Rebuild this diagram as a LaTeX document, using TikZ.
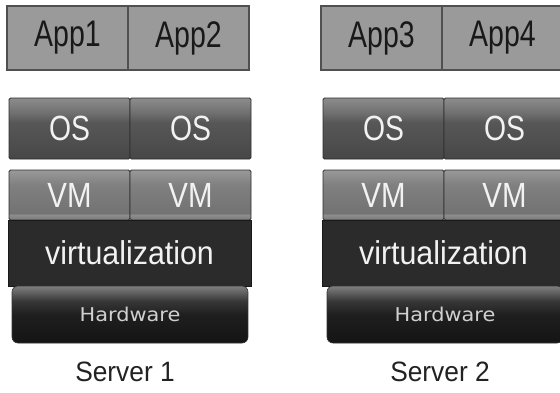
\documentclass[tikz,border=0pt]{standalone}
\usepackage{graphicx}
\usepackage{fontspec}
\setmainfont{Liberation Sans}
\newfontfamily\hwfont{DejaVu Sans}
\definecolor{appfill}{HTML}{9A9A9A}
\definecolor{appline}{HTML}{505050}
\definecolor{osline}{HTML}{2E2E2E}
\definecolor{virtfill}{HTML}{2B2B2B}
\definecolor{txtlight}{HTML}{F2F2F2}
\definecolor{hwtxt}{HTML}{D0D0D0}
\definecolor{labtxt}{HTML}{222222}
\pgfdeclareverticalshading{osshade}{100bp}{%
  color(0bp)=(black!72); color(25bp)=(black!72); color(55bp)=(black!66);
  color(63bp)=(black!56); color(75bp)=(black!45); color(100bp)=(black!45)}
\pgfdeclareverticalshading{vmshade}{100bp}{%
  color(0bp)=(black!52); color(25bp)=(black!52); color(30bp)=(black!45);
  color(32bp)=(black!55); color(60bp)=(black!50); color(75bp)=(black!40); color(100bp)=(black!40)}
\pgfdeclareverticalshading{hwshade}{100bp}{%
  color(0bp)=(black!92); color(25bp)=(black!92); color(50bp)=(black!88);
  color(62bp)=(black!78); color(75bp)=(black!50); color(100bp)=(black!50)}
\newcommand{\sqz}[2]{\scalebox{#1}[1]{#2}}
\tikzset{
  appbox/.style={draw=appline, line width=1.1pt, fill=appfill, inner sep=0pt, outer sep=0pt,
    minimum width=121pt, minimum height=64pt, text=black!90,
    font=\fontsize{37}{37}\selectfont},
  osbox/.style={draw=osline, line width=0.9pt, shading=osshade, inner sep=0pt, outer sep=0pt,
    rounded corners=1.5pt, minimum width=121pt, minimum height=61pt, text=txtlight,
    font=\fontsize{35}{35}\selectfont},
  vmbox/.style={draw=osline, line width=0.9pt, shading=vmshade, inner sep=0pt, outer sep=0pt,
    rounded corners=1.5pt, minimum width=121pt, minimum height=50pt, text=txtlight,
    font=\fontsize{35}{35}\selectfont},
  virtbox/.style={draw=black!90, line width=0.9pt, fill=virtfill, inner sep=0pt, outer sep=0pt,
    minimum width=243pt, minimum height=66pt, text=txtlight,
    font=\fontsize{33}{33}\selectfont},
  hwbox/.style={draw=black!80, line width=0.6pt, shading=hwshade, inner sep=0pt, outer sep=0pt,
    rounded corners=6pt, minimum width=236pt, minimum height=57pt, text=hwtxt,
    font=\hwfont\fontsize{19}{19}\selectfont},
  srvlabel/.style={inner sep=0pt, text=labtxt, font=\fontsize{28}{28}\selectfont}
}
\begin{document}
\begin{tikzpicture}[x=1pt,y=-1pt]
\useasboundingbox (0,0) rectangle (560,392);
\fill[white] (0,0) rectangle (560,392);
\begin{scope}
\clip (0,0) rectangle (560,392);
% Server 1 (x0 = 7)
\node[appbox] (app1) at (67.5,38) {\sqz{0.77}{App1}};
\node[appbox] (app2) at (188.5,38) {\sqz{0.77}{App2}};
\node[osbox] (os1) at (69.5,128.5) {\sqz{0.81}{OS}};
\node[osbox] (os2) at (190.5,128.5) {\sqz{0.81}{OS}};
\node[vmbox] (vm1) at (69.5,195) {\sqz{0.84}{VM}};
\node[vmbox] (vm2) at (190.5,195) {\sqz{0.84}{VM}};
\node[virtbox] (virt1) at (129.5,253) {\sqz{0.92}{virtualization}};
\node[hwbox] (hw1) at (130,314.5) {\sqz{1.1}{Hardware}};
\node[srvlabel] (srv1) at (125,372) {\sqz{0.94}{Server 1}};
% Server 2 (x0 = 321)
\node[appbox] (app3) at (381.5,38) {\sqz{0.77}{App3}};
\node[appbox] (app4) at (502.5,38) {\sqz{0.77}{App4}};
\node[osbox] (os3) at (383.5,128.5) {\sqz{0.81}{OS}};
\node[osbox] (os4) at (504.5,128.5) {\sqz{0.81}{OS}};
\node[vmbox] (vm3) at (383.5,195) {\sqz{0.84}{VM}};
\node[vmbox] (vm4) at (504.5,195) {\sqz{0.84}{VM}};
\node[virtbox] (virt2) at (443.5,253) {\sqz{0.92}{virtualization}};
\node[hwbox] (hw2) at (445,314.5) {\sqz{1.1}{Hardware}};
\node[srvlabel] (srv2) at (440,372) {\sqz{0.94}{Server 2}};
\end{scope}
\end{tikzpicture}
\end{document}
